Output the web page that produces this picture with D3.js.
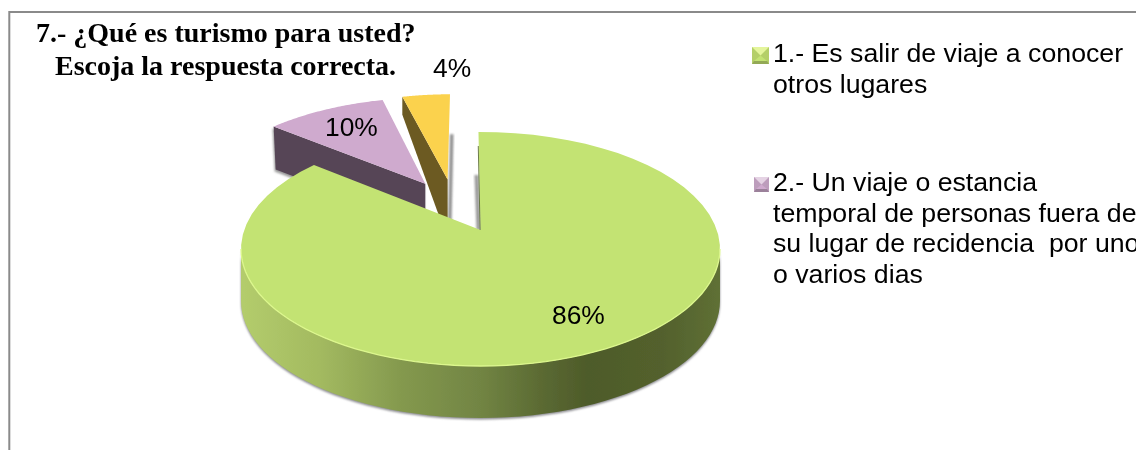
<!DOCTYPE html>
<meta charset="utf-8" />
<style>
  body { margin: 0; background: #fff; overflow: hidden; }
  text { fill: #000; font-family: "Liberation Sans", sans-serif; font-size: 26.4px; }
  .legend text { font-size: 26.7px; white-space: pre; }
  .title { font-family: "Liberation Serif", serif; font-weight: bold; font-size: 28px; }
</style>

<script src="https://d3js.org/d3.v7.min.js"></script>

<div id="chart"></div>

<script>
  // Values
  const values = [86, 10, 4];
  const valueLabels = ["86%", "10%", "4%"];
  const titleLines = ["7.- ¿Qué es turismo para usted?", "Escoja la respuesta correcta."];
  const legendOne = ["1.- Es salir de viaje a conocer", "otros lugares"];
  const legendTwo = [
    "2.- Un viaje o estancia",
    "temporal de personas fuera de",
    "su lugar de recidencia  por uno",
    "o varios dias",
  ];

  const width = 1136, height = 450;

  const svg = d3.select("#chart").append("svg")
    .attr("width", width)
    .attr("height", height)
    .style("display", "block");

  const defs = svg.append("defs");

  // Soft edges, the reference is a scaled bitmap
  defs.append("filter").attr("id", "soft")
    .append("feGaussianBlur").attr("stdDeviation", 0.45);
  defs.append("filter").attr("id", "shadow")
    .attr("x", "-10%").attr("y", "-10%").attr("width", "120%").attr("height", "120%")
    .append("feGaussianBlur").attr("stdDeviation", 1.2);

  const sideGradient = defs.append("linearGradient")
    .attr("id", "greenSide")
    .attr("gradientUnits", "userSpaceOnUse")
    .attr("x1", 243).attr("x2", 721).attr("y1", 0).attr("y2", 0);
  sideGradient.selectAll("stop")
    .data([
      [0, "#b3cc6c"], [0.16, "#a3ba60"], [0.33, "#84994e"], [0.5, "#718443"],
      [0.63, "#5a6932"], [0.72, "#4e5b2a"], [0.88, "#53612d"], [1, "#5f7035"],
    ])
    .join("stop")
    .attr("offset", (d) => d[0])
    .attr("stop-color", (d) => d[1]);

  // Tilted disc: unit circle to screen through a perspective divide
  const tilt = 0.1624;
  const x = d3.scaleLinear().domain([0, 1]).range([480.5, 716.8]);
  const y = d3.scaleLinear().domain([0, 1]).range([230, 116.1]);

  function project(px, py) {
    const w = 1 + tilt * py;
    return [x(px / w), y(py / w)];
  }

  const pie = d3.pie().sort(null).startAngle(-0.01).endAngle(2 * Math.PI - 0.01);
  const arcs = pie(values);

  // Slice styles in the same order as values
  const slices = [
    { top: "#c3e373", side: "url(#greenSide)", off: [0, 0], outer: 52, apex: 52 },
    { top: "#cfaace", side: "#574557", off: [-0.25, 0.435], outer: 43, apex: 43 },
    { top: "#fbd24e", side: "#6c5a20", off: [-0.15, 0.478], outer: 18, apex: 60 },
  ];

  const rim = (s, a) =>
    project(s.off[0] + Math.sin(a), s.off[1] + Math.cos(a));
  const arcPoints = (s, a0, a1) =>
    d3.range(0, 61).map((i) => rim(s, a0 + ((a1 - a0) * i) / 60));
  const down = (p, d, lean = 0) => [p[0] + lean, p[1] + d];
  const line = d3.line();
  const closed = (pts) => line(pts) + "Z";

  const marks = svg.append("g").attr("filter", "url(#soft)");

  // Yellow slice, drawn first because it sits furthest back
  const yellow = slices[2], yellowArc = arcs[2];
  const yellowApex = project(yellow.off[0], yellow.off[1]);
  const yellowOuter = rim(yellow, yellowArc.startAngle);
  const yellowRight = rim(yellow, yellowArc.endAngle);

  marks.append("path")
    .attr("d", closed([
      down(yellowRight, 40), down(yellowRight, 40, 3.5),
      down(yellowApex, yellow.apex, 3.5), down(yellowApex, yellow.apex),
    ]))
    .attr("fill", "#8f8f8f")
    .attr("filter", "url(#shadow)");
  marks.append("path")
    .attr("d", closed([
      yellowOuter, yellowApex,
      down(yellowApex, yellow.apex), down(yellowOuter, yellow.outer),
    ]))
    .attr("fill", yellow.side);
  marks.append("path")
    .attr("d", closed([yellowApex, ...arcPoints(yellow, yellowArc.startAngle, yellowArc.endAngle)]))
    .attr("fill", yellow.top);

  // Purple slice
  const purple = slices[1], purpleArc = arcs[1];
  const purpleApex = project(purple.off[0], purple.off[1]);
  const purpleOuter = rim(purple, purpleArc.startAngle);
  const purpleWall = [
    purpleOuter, purpleApex,
    down(purpleApex, purple.apex), down(purpleOuter, purple.outer, 2),
  ];

  marks.append("path")
    .attr("d", closed(purpleWall.map((p) => [p[0] - 1, p[1] + 2])))
    .attr("fill", "#9a9a9a")
    .attr("filter", "url(#shadow)");
  marks.append("path").attr("d", closed(purpleWall)).attr("fill", purple.side);
  marks.append("path")
    .attr("d", closed([purpleApex, ...arcPoints(purple, purpleArc.startAngle, purpleArc.endAngle)]))
    .attr("fill", purple.top);

  // Green slice: shadow, front wall, top face
  const green = slices[0], greenArc = arcs[0];
  const greenApex = project(green.off[0], green.off[1]);
  const greenOuter = rim(green, greenArc.startAngle);
  const frontFrom = Math.acos(-tilt), frontTo = 2 * Math.PI - frontFrom;
  const front = arcPoints(green, frontFrom, frontTo);
  const frontWall = [...front, ...front.slice().reverse().map((p) => down(p, green.outer))];

  marks.append("path")
    .attr("d", closed([
      [greenOuter[0] - 4, greenApex[1] - 55], [greenOuter[0], greenApex[1] - 55],
      [greenApex[0], greenApex[1]], [greenApex[0] - 4, greenApex[1]],
    ]))
    .attr("fill", "#9a9a9a")
    .attr("filter", "url(#shadow)");
  marks.append("path")
    .attr("d", closed(frontWall.map((p) => [p[0], p[1] + 1.5])))
    .attr("fill", "#8a8a8f")
    .attr("filter", "url(#shadow)");
  marks.append("path").attr("d", closed(frontWall)).attr("fill", green.side);

  marks.append("path")
    .attr("d", closed([greenApex, ...arcPoints(green, greenArc.startAngle, greenArc.endAngle)]))
    .attr("fill", green.top);
  // Thin dark edge along the opening of the green slice
  marks.append("path")
    .attr("d", line([[greenOuter[0] - 0.2, greenOuter[1] + 14], [greenApex[0] - 0.4, greenApex[1]]]))
    .attr("stroke", "#5b6d33")
    .attr("stroke-width", 0.9)
    .attr("fill", "none");
  // Bright rim on the front of the top face
  marks.append("path")
    .attr("d", line(front))
    .attr("stroke", "#dcf78c")
    .attr("stroke-width", 1.3)
    .attr("fill", "none");

  // Chart frame, open at the right and at the bottom
  svg.append("path")
    .attr("d", line([[9.3, height], [9.3, 12], [width, 12]]))
    .attr("stroke", "#8a8a8a")
    .attr("stroke-width", 2)
    .attr("fill", "none");

  svg.append("text").attr("class", "title").attr("x", 36).attr("y", 42).text(titleLines[0]);
  svg.append("text").attr("class", "title").attr("x", 55).attr("y", 75).text(titleLines[1]);

  svg.append("text").attr("x", 552).attr("y", 324).text(valueLabels[0]);
  svg.append("text").attr("x", 325).attr("y", 136).text(valueLabels[1]);
  svg.append("text").attr("x", 433).attr("y", 77).text(valueLabels[2]);

  // Legend key with the bevelled look of the reference
  function legendKey(x0, y0, size, light, mid, dark, face) {
    const g = svg.append("g").attr("filter", "url(#soft)");
    const a = [x0, y0], b = [x0 + size, y0], c = [x0 + size, y0 + size], d = [x0, y0 + size];
    const m = [x0 + size / 2, y0 + size / 2];
    g.append("path").attr("d", closed([a, b, c, d])).attr("fill", mid);
    g.append("path").attr("d", closed([d, c, [x0 + size - 2, y0 + size - 3], [x0 + 2, y0 + size - 3]])).attr("fill", dark);
    g.append("path").attr("d", closed([[x0 + 2, y0 + size - 3], [x0 + size - 2, y0 + size - 3], m])).attr("fill", face);
    g.append("path").attr("d", closed([a, b, m])).attr("fill", light);
  }
  legendKey(752, 47, 17, "#e4f59c", "#b4cf68", "#93a957", "#c3e373");
  legendKey(754, 177, 15, "#e5d3e4", "#bd9dbc", "#9b819a", "#cfaace");

  const legend = svg.append("g").attr("class", "legend");
  legend.append("g").selectAll("text").data(legendOne).join("text")
    .attr("x", 773).attr("y", (d, i) => 62 + i * 30.5).text((d) => d);
  legend.append("g").selectAll("text").data(legendTwo).join("text")
    .attr("x", 773).attr("y", (d, i) => 191 + i * 30.5).text((d) => d);
</script>
